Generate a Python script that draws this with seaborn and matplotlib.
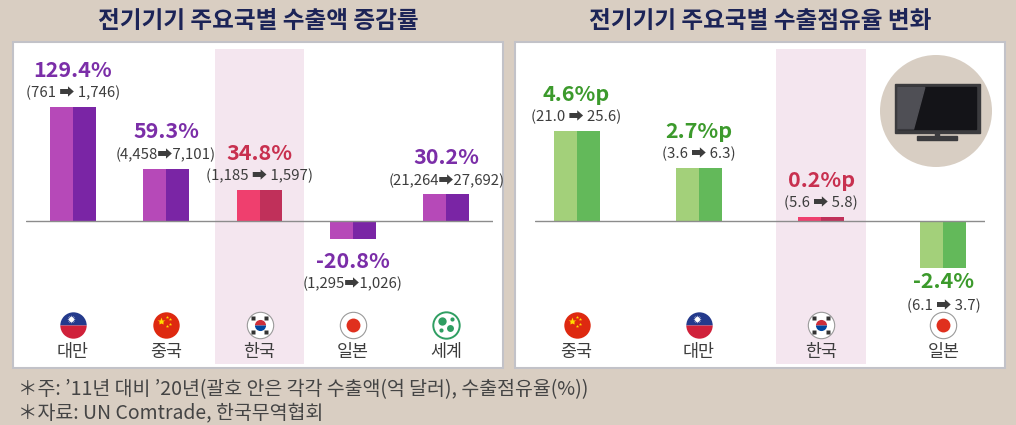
import pandas as pd
import seaborn as sns
import matplotlib.pyplot as plt
import matplotlib.transforms as mtransforms
from matplotlib.patches import Rectangle, Circle, Polygon

# data: export growth 2011 -> 2020 (억 달러)
exp_countries = ['대만', '중국', '한국', '일본', '세계']
exp_flags = ['tw', 'cn', 'kr', 'jp', 'world']
exp_rate = [129.4, 59.3, 34.8, -20.8, 30.2]
exp_2011 = ['761', '4,458', '1,185', '1,295', '21,264']
exp_2020 = ['1,746', '7,101', '1,597', '1,026', '27,692']
exp_arrow = [' ➡ ', '➡', ' ➡ ', '➡', '➡']

# data: export market share change (%p)
share_countries = ['중국', '대만', '한국', '일본']
share_flags = ['cn', 'tw', 'kr', 'jp']
share_change = [4.6, 2.7, 0.2, -2.4]
share_units = ['%p', '%p', '%p', '%']
share_2011 = ['21.0', '3.6', '5.6', '6.1']
share_2020 = ['25.6', '6.3', '5.8', '3.7']

title_left = '전기기기 주요국별 수출액 증감률'
title_right = '전기기기 주요국별 수출점유율 변화'
notes = ['＊주: ’11년 대비 ’20년(괄호 안은 각각 수출액(억 달러), 수출점유율(%))',
         '＊자료: UN Comtrade, 한국무역협회']

sns.set_theme(style='white')
plt.rcParams['font.family'] = ['Noto Sans CJK KR', 'DejaVu Sans']

W, H = 1016, 425
BG = '#d9cec2'
NAVY = '#1c2457'
GREY = '#3d3d3d'
BAND = '#f4e6ef'
KR_COLS = ('#ef3f6e', '#c0305a')
KR_TEXT = '#c8304f'


def px_rect(x0, y0, x1, y1):
    return [x0 / W, 1 - y1 / H, (x1 - x0) / W, (y1 - y0) / H]


fig = plt.figure(figsize=(W / 100, H / 100), dpi=100, facecolor=BG)

# white panels
for x0, x1 in [(13, 503), (515, 1005)]:
    b = px_rect(x0, 42, x1, 368)
    fig.add_artist(Rectangle((b[0], b[1]), b[2], b[3], transform=fig.transFigure,
                             facecolor='white', edgecolor='#c2c2c8', lw=1.5, zorder=0))

fig.text(258 / W, 1 - 21 / H, title_left, ha='center', va='center',
         fontsize=17, fontweight='bold', color=NAVY)
fig.text(760 / W, 1 - 21 / H, title_right, ha='center', va='center',
         fontsize=17, fontweight='bold', color=NAVY)


def draw_flag(ax, i, code, y=0.124):
    base = mtransforms.blended_transform_factory(ax.transData, ax.transAxes)

    def mk(dx=0, dy=0, **kw):
        tr = base + mtransforms.ScaledTranslation(dx / 72, dy / 72, fig.dpi_scale_trans)
        ax.plot([i], [y], transform=tr, clip_on=False, linestyle='none', zorder=5, **kw)

    if code == 'tw':
        mk(marker='o', ms=19, fillstyle='top', markerfacecolor='#243a8c',
           markerfacecoloralt='#d0213a', markeredgecolor='none')
        mk(-1, 4, marker=(12, 1, 0), ms=6, color='white', markeredgecolor='none')
    elif code == 'cn':
        mk(marker='o', ms=19, color='#de2910', markeredgecolor='none')
        mk(-3.5, 3, marker='*', ms=6, color='#ffde00', markeredgecolor='none')
        for dx, dy in [(0.5, 6), (2.5, 4), (2.5, 1), (0.5, -1)]:
            mk(dx, dy, marker='*', ms=2.5, color='#ffde00', markeredgecolor='none')
    elif code == 'kr':
        mk(marker='o', ms=19, color='white', markeredgecolor='#9a9a9a', mew=0.8)
        mk(marker='o', ms=8, fillstyle='top', markerfacecolor='#cd2e3a',
           markerfacecoloralt='#0047a0', markeredgecolor='none')
        for dx, dy in [(-5, 5), (5, 5), (-5, -5), (5, -5)]:
            mk(dx, dy, marker='s', ms=2.2, color='#333333', markeredgecolor='none')
    elif code == 'jp':
        mk(marker='o', ms=19, color='white', markeredgecolor='#9a9a9a', mew=0.8)
        mk(marker='o', ms=10, color='#e0301e', markeredgecolor='none')
    else:
        mk(marker='o', ms=19, color='white', markeredgecolor='#2f9e62', mew=1.4)
        for dx, dy, s in [(-3, 3, 6), (3, -2, 5), (4, 4, 3), (-4, -4, 3)]:
            mk(dx, dy, marker='o', ms=s, color='#2f9e62', markeredgecolor='none')


def panel(box, countries, flags, values, labels, parens, cols, text_col,
          width, scale, xlim, band_half, neg_offsets):
    ax = fig.add_axes(box)
    top_px, bot_px = 172, 143
    df = pd.DataFrame({
        'country': [c for c in countries for _ in range(2)],
        'shade': ['a', 'b'] * len(countries),
        'value': [v for v in values for _ in range(2)],
    })
    sns.barplot(data=df, x='country', y='value', hue='shade', order=countries,
                palette=list(cols), saturation=1, width=width, errorbar=None,
                linewidth=0, legend=False, ax=ax, zorder=2)
    k = countries.index('한국')
    for p in ax.patches:
        cx = p.get_x() + p.get_width() / 2
        if abs(cx - k) < 0.4:
            p.set_facecolor(KR_COLS[0] if cx < k else KR_COLS[1])
    ax.axvspan(k - band_half, k + band_half, color=BAND, lw=0, zorder=0)
    ax.axhline(0, color='#8c8c8c', lw=1, zorder=3)
    ax.set_xlim(*xlim)
    ax.set_ylim(-bot_px / scale, top_px / scale)
    ax.axis('off')

    lab_tr = mtransforms.blended_transform_factory(ax.transData, ax.transAxes)
    for i, (v, lab, par) in enumerate(zip(values, labels, parens)):
        tc = KR_TEXT if i == k else text_col
        o1, o2 = (37, 14) if v >= 0 else neg_offsets
        ax.annotate(lab, (i, v), xytext=(0, o1), textcoords='offset pixels',
                    ha='center', va='center', fontsize=15.5, fontweight='bold',
                    color=tc, zorder=6)
        ax.annotate(par, (i, v), xytext=(0, o2), textcoords='offset pixels',
                    ha='center', va='center', fontsize=10.8, color=GREY, zorder=6)
        draw_flag(ax, i, flags[i])
        ax.text(i, 0.038, countries[i], transform=lab_tr, ha='center', va='center',
                fontsize=12.5, color=GREY)
    return ax


exp_labels = [f'{v:.1f}%' for v in exp_rate]
exp_parens = [f'({a}{ar}{b})' for a, ar, b in zip(exp_2011, exp_arrow, exp_2020)]
panel(px_rect(26, 49, 493, 364), exp_countries, exp_flags, exp_rate, exp_labels,
      exp_parens, ('#b649b8', '#7a25a5'), '#7b2ea8', 0.49, 0.88, (-0.5, 4.5),
      0.48, (-22, -45))

share_labels = [f'{v:.1f}{u}' for v, u in zip(share_change, share_units)]
share_parens = [f'({a} ➡ {b})' for a, b in zip(share_2011, share_2020)]
panel(px_rect(535, 49, 985, 364), share_countries, share_flags, share_change,
      share_labels, share_parens, ('#a3d07a', '#63b95a'), '#3c9a2c', 0.376, 19.5,
      (-0.34, 3.34), 0.368, (-14, -38))

# TV icon
ax_tv = fig.add_axes(px_rect(880, 55, 992, 167))
ax_tv.set_xlim(0, 1)
ax_tv.set_ylim(0, 1)
ax_tv.set_aspect('equal')
ax_tv.axis('off')
ax_tv.add_patch(Circle((0.5, 0.5), 0.5, facecolor='#d8cec3', edgecolor='none', clip_on=False))
ax_tv.add_patch(Rectangle((0.13, 0.30), 0.76, 0.44, color='#3b3b3e'))
ax_tv.add_patch(Rectangle((0.16, 0.34), 0.70, 0.37, color='#141418'))
ax_tv.add_patch(Polygon([(0.16, 0.34), (0.16, 0.71), (0.40, 0.71), (0.30, 0.34)],
                        color='#4f4f55'))
ax_tv.add_patch(Rectangle((0.49, 0.27), 0.04, 0.04, color='#3b3b3e'))
ax_tv.add_patch(Rectangle((0.33, 0.245), 0.36, 0.03, color='#3b3b3e'))

fig.text(18 / W, 1 - 390 / H, notes[0], ha='left', va='center', fontsize=14, color='#444444')
fig.text(18 / W, 1 - 413 / H, notes[1], ha='left', va='center', fontsize=14, color='#444444')

fig.savefig('out.png', dpi=100, facecolor=BG)
